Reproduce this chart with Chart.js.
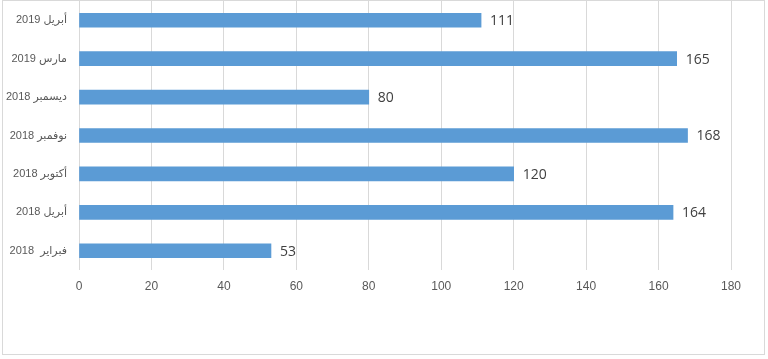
<!DOCTYPE html>
<html>
<head>
<meta charset="utf-8">
<script src="https://cdn.jsdelivr.net/npm/chart.js@4/dist/chart.umd.min.js"></script>
<style>
    html, body { margin: 0; padding: 0; background: #fff; }
    #frame {
        position: absolute;
        left: 2px; top: 0;
        width: 763px; height: 355px;
        box-sizing: border-box;
        border: 1px solid #d9d9d9;
    }
    #chart { display: block; }
</style>
</head>
<body>
<div id="frame"><canvas id="chart" width="761" height="353"></canvas></div>
<script>
// الفئات والقيم
const months = ['أبريل 2019', 'مارس 2019', 'ديسمبر 2018', 'نوفمبر 2018', 'أكتوبر 2018', 'أبريل 2018', 'فبراير  2018'];
const counts = [111, 165, 80, 168, 120, 164, 53];
const xTicks = [0, 20, 40, 60, 80, 100, 120, 140, 160, 180];

const fontFamily = '"Liberation Sans", "DejaVu Sans", sans-serif';

// رسم القيم بجانب كل عمود
const valueLabels = {
    id: 'valueLabels',
    afterDatasetsDraw(chart) {
        const ctx = chart.ctx;
        const meta = chart.getDatasetMeta(0);
        ctx.save();
        ctx.font = '14px "Open Sans", ' + fontFamily;
        ctx.fillStyle = '#404040';
        ctx.textAlign = 'left';
        ctx.textBaseline = 'middle';
        meta.data.forEach((bar, i) => {
            ctx.fillText(String(counts[i]), bar.x + 9, bar.y + 1);
        });
        ctx.restore();
    }
};

new Chart(document.getElementById('chart').getContext('2d'), {
    type: 'bar',
    data: {
        labels: months,
        datasets: [{
            data: counts,
            backgroundColor: '#5B9BD5',
            barThickness: 14
        }]
    },
    options: {
        indexAxis: 'y',
        responsive: false,
        animation: false,
        layout: { padding: { left: 0, right: 33, top: 0, bottom: 0 } },
        plugins: {
            legend: { display: false },
            tooltip: { enabled: false }
        },
        scales: {
            x: {
                min: 0,
                max: 180,
                afterBuildTicks(axis) {
                    axis.ticks = xTicks.map(v => ({ value: v }));
                },
                afterFit(axis) {
                    axis.height = 84;
                    axis.paddingLeft = 0;
                    axis.paddingRight = 0;
                },
                grid: { color: '#d9d9d9', drawTicks: false },
                border: { display: false },
                ticks: {
                    padding: 9,
                    color: '#595959',
                    font: { size: 12, family: fontFamily }
                }
            },
            y: {
                afterFit(axis) {
                    axis.width = 76;
                    axis.paddingTop = 0;
                    axis.paddingBottom = 0;
                },
                grid: { display: false },
                border: { display: false },
                ticks: {
                    padding: 4,
                    color: '#595959',
                    font: { size: 11, family: fontFamily }
                }
            }
        }
    },
    plugins: [valueLabels]
});
</script>
</body>
</html>
